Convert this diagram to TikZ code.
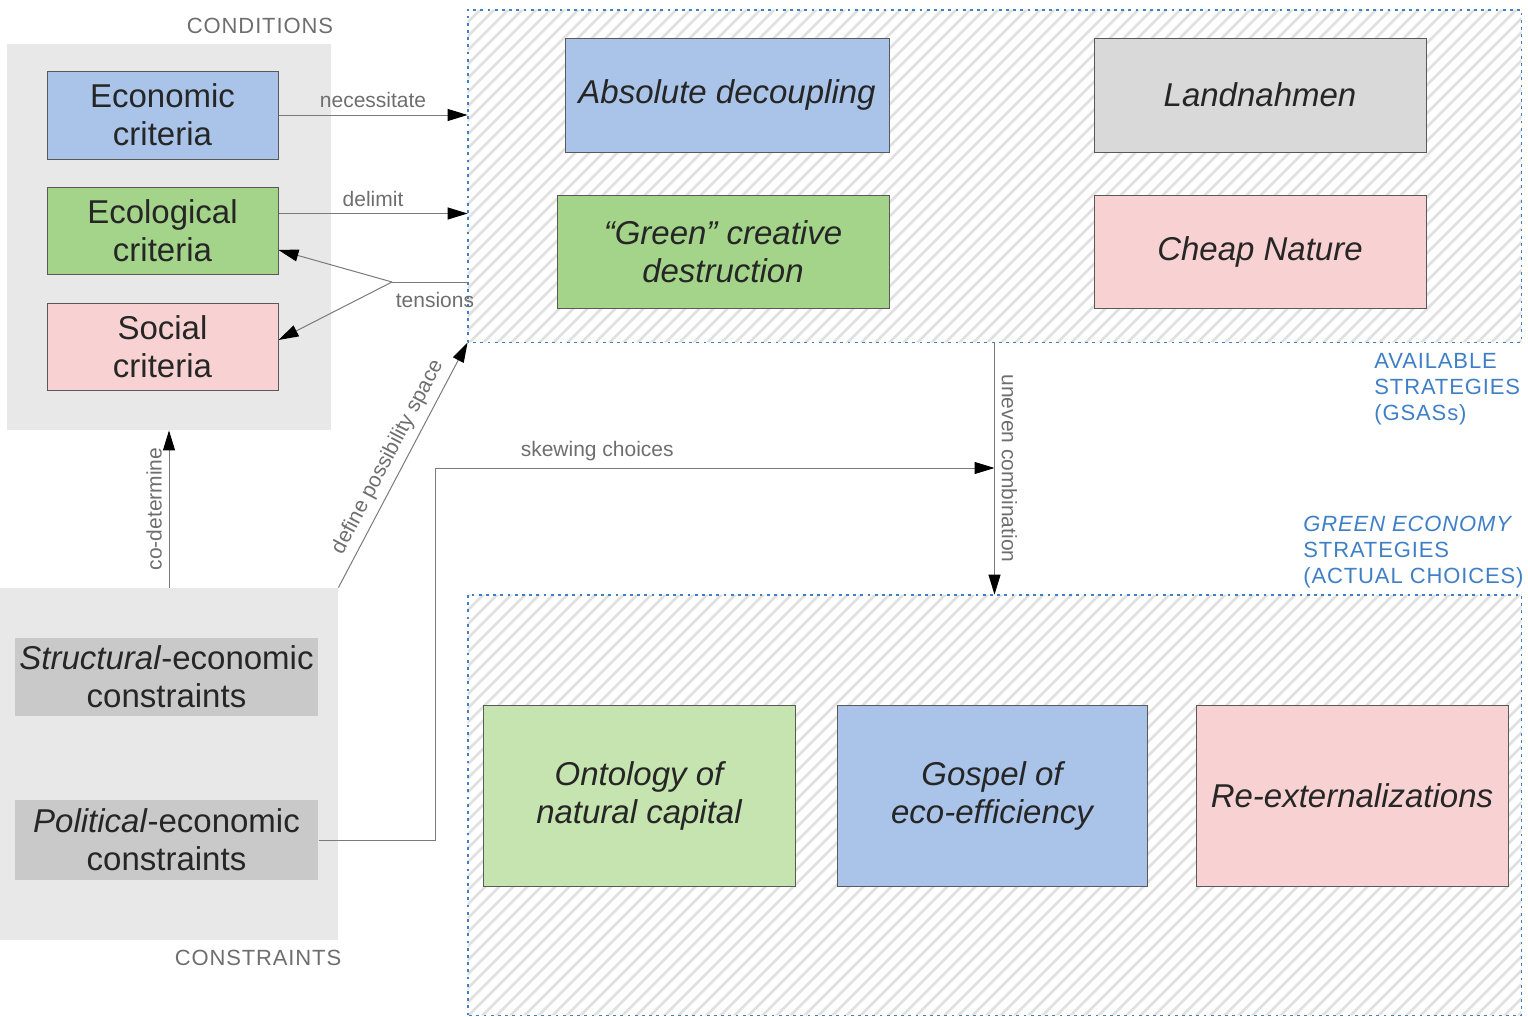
\documentclass[tikz,border=0pt]{standalone}
\usepackage{fontspec}
\setmainfont{Liberation Sans}
\newfontfamily\capfont[LetterSpace=4]{Liberation Sans}
\usetikzlibrary{arrows.meta,calc}

\definecolor{critblue}{HTML}{A9C4E8}
\definecolor{critgreen}{HTML}{A3D48A}
\definecolor{palegreen}{HTML}{C6E4AF}
\definecolor{critpink}{HTML}{F8D2D2}
\definecolor{landgrey}{HTML}{D9D9D9}
\definecolor{constgrey}{HTML}{C9C9C9}
\definecolor{panelgrey}{HTML}{E8E8E8}
\definecolor{hatchgrey}{HTML}{E0E0E0}
\definecolor{capblue}{HTML}{3F7FC6}
\definecolor{linegrey}{HTML}{7A7A7A}
\definecolor{labelgrey}{HTML}{6E6E6E}

\tikzset{
  crit/.style={draw=black!65, line width=0.5pt, inner sep=0pt, align=center,
    text=black!85, font=\fontsize{16.5}{19}\selectfont},
  strat/.style={crit, font=\fontsize{16.5}{19}\selectfont\itshape},
  constr/.style={crit, draw=none, fill=constgrey, minimum width=151.5pt},
  panel/.style={fill=panelgrey, draw=none, inner sep=0pt},
  region/.style={draw=none, inner sep=0pt, minimum width=526.5pt},
  regionborder/.style={draw=capblue, line width=0.9pt, dash pattern=on 1.4pt off 2.2pt},
  hatch/.style={draw=hatchgrey, line width=1.4pt},
  conn/.style={draw=linegrey, line width=0.5pt},
  arr/.style={conn, -{Triangle[length=10pt,width=6pt,color=black]}},
  lbl/.style={text=labelgrey, font=\fontsize{10.5}{12}\selectfont},
  caption/.style={text=capblue, font=\capfont\fontsize{11}{13}\selectfont,
    align=left, inner sep=0pt},
  headline/.style={text=labelgrey, font=\capfont\fontsize{11}{13}\selectfont, inner sep=0pt}
}

\begin{document}
\begin{tikzpicture}[x=0.5pt, y=-0.5pt]
    \useasboundingbox (0,0) rectangle (1528,1017);

    % panels and regions
    \node[panel, minimum width=162pt, minimum height=193pt] (cond) at (169,237) {};
    \node[panel, minimum width=169pt, minimum height=176pt] (cons) at (169,764) {};
    \node[region, minimum height=166pt] (avail) at (994.5,176) {};
    \node[region, minimum height=210pt] (actual) at (994.5,805) {};

    % hatching of the two strategy regions
    \begin{scope}
        \clip (avail.south west) rectangle (avail.north east)
              (actual.south west) rectangle (actual.north east);
        \foreach \c in {-1017,-1003,...,1528}
            \draw[hatch] (\c,1017) -- ++(1017,-1017);
    \end{scope}
    \draw[regionborder] (avail.south west) rectangle (avail.north east);
    \draw[regionborder] (actual.south west) rectangle (actual.north east);

    \node[headline] (condtitle) at (260,26) {CONDITIONS};
    \node[headline] (constitle) at (258,958) {CONSTRAINTS};

    % criteria
    \node[crit, fill=critblue, minimum width=115.5pt, minimum height=44pt] (econ) at (162.5,115) {Economic\\criteria};
    \node[crit, fill=critgreen, minimum width=115.5pt, minimum height=43.5pt] (ecol) at (162.5,230.5) {Ecological\\criteria};
    \node[crit, fill=critpink, minimum width=115.5pt, minimum height=43.5pt] (soc) at (162.5,346.5) {Social\\criteria};

    % constraints
    \node[constr, minimum height=39pt] (struct) at (166.5,677) {\textit{Structural}-economic\\constraints};
    \node[constr, minimum height=40pt] (pol) at (166.5,840) {\textit{Political}-economic\\constraints};

    % available strategies
    \node[strat, fill=critblue, minimum width=162pt, minimum height=57pt] (absdec) at (727,95) {Absolute decoupling};
    \node[strat, fill=landgrey, minimum width=166pt, minimum height=57pt] (landn) at (1260,95) {Landnahmen};
    \node[strat, fill=critgreen, minimum width=166pt, minimum height=56.5pt] (greencd) at (723,251.5) {“Green” creative\\destruction};
    \node[strat, fill=critpink, minimum width=166pt, minimum height=56.5pt] (cheapn) at (1260,251.5) {Cheap Nature};

    % actual choices
    \node[strat, fill=palegreen, minimum width=156pt, minimum height=90.5pt] (onto) at (639,795.5) {Ontology of\\natural capital};
    \node[strat, fill=critblue, minimum width=155pt, minimum height=90.5pt] (gospel) at (992,795.5) {Gospel of\\eco-efficiency};
    \node[strat, fill=critpink, minimum width=156pt, minimum height=90.5pt] (reext) at (1352,795.5) {Re-externalizations};

    \node[caption, anchor=north west] (gsas) at (1374,353) {AVAILABLE\\STRATEGIES\\(GSASs)};
    \node[caption, anchor=north west] (gescap) at (1303,516) {\textit{GREEN ECONOMY}\\STRATEGIES\\(ACTUAL CHOICES)};

    % connectors
    \draw[arr] (econ.east) -- (econ.east -| avail.west) node[lbl, midway, above] {necessitate};
    \draw[arr] ($(ecol.east)+(0,-17)$) -- ($(ecol.east -| avail.west)+(0,-17)$) node[lbl, midway, above] {delimit};

    \coordinate (tj) at (392,282);
    \draw[conn] (tj -| avail.west) -- (tj);
    \draw[arr] (tj) -- ($(ecol.east)+(0,19.5)$);
    \draw[arr] (tj) -- ($(soc.east)+(0,-6.5)$);
    \node[lbl] (tenslbl) at (435,300) {tensions};

    \draw[arr] (cons.north) -- (cond.south) node[lbl, midway, sloped, above] {co-determine};
    \draw[arr] (cons.north east) -- (avail.south west) node[lbl, midway, sloped, above] {define possibility space};

    \coordinate (skew) at (435,468);
    \draw[arr] (pol.east) -| (skew) -- (skew -| avail.south) node[lbl, pos=0.29, above] {skewing choices};
    \draw[arr] (avail.south) -- (actual.north) node[lbl, midway, sloped, above] {uneven combination};
\end{tikzpicture}
\end{document}
